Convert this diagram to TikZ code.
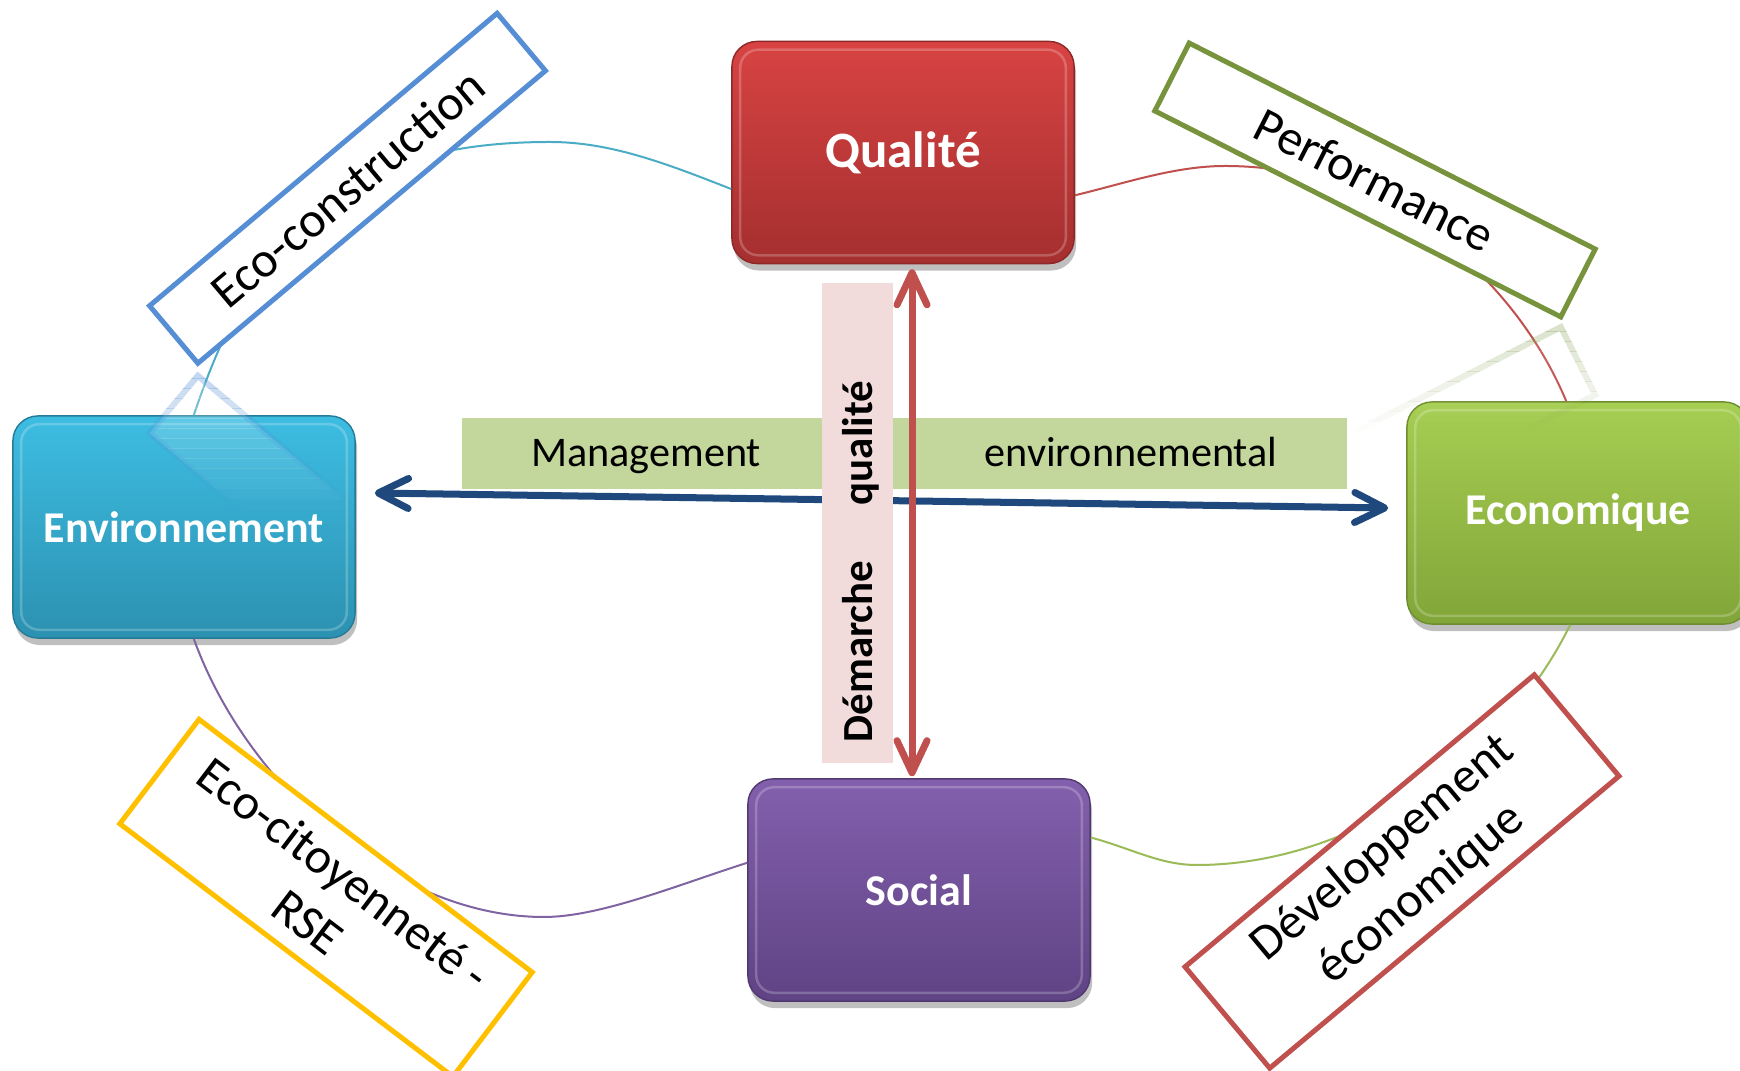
\documentclass[tikz,border=0pt]{standalone}
\usepackage{fontspec}
\setmainfont{Carlito}
\usetikzlibrary{arrows.meta,shadows,calc}

\definecolor{qtop}{HTML}{D84343}
\definecolor{qbot}{HTML}{A52F2F}
\definecolor{etop}{HTML}{3DBDE2}
\definecolor{ebot}{HTML}{2C91B1}
\definecolor{gtop}{HTML}{A6CE52}
\definecolor{gbot}{HTML}{82A539}
\definecolor{ptop}{HTML}{8360AD}
\definecolor{pbot}{HTML}{5F4384}
\definecolor{cblue}{HTML}{558ED5}
\definecolor{cgreen}{HTML}{77933C}
\definecolor{cgold}{HTML}{FFC000}
\definecolor{cred}{HTML}{C0504D}
\definecolor{arcblue}{HTML}{4BACC6}
\definecolor{arcred}{HTML}{C0504D}
\definecolor{arcgreen}{HTML}{9BBB59}
\definecolor{arcpurple}{HTML}{8064A2}
\definecolor{bandgreen}{HTML}{C3D69B}
\definecolor{bandpink}{HTML}{F2DCDB}
\definecolor{navy}{HTML}{1F497D}

\begin{document}
\begin{tikzpicture}[x=0.01cm,y=-0.01cm,
  mainbox/.style 2 args={rounded corners=0.25cm, minimum width=3.42cm,
    minimum height=2.22cm, inner sep=0pt, text=white,
    top color=#1, bottom color=#2, draw=#2!85!black, line width=0.4pt,
    drop shadow={shadow xshift=0.02cm, shadow yshift=-0.07cm, opacity=0.25, fill=black}},
  boxfont/.style={font=\fontsize{12.5pt}{15pt}\selectfont\bfseries},
  lbl/.style={fill=white, line width=0.05cm, inner sep=0pt, align=center,
    font=\fontsize{14.2pt}{17pt}\selectfont},
  reflbox/.style={fill=white, line width=0.06cm, inner sep=0pt},
  arcline/.style={line width=0.02cm},
  midtext/.style={font=\fontsize{12pt}{14pt}\selectfont, inner sep=0pt},
  midbold/.style={font=\fontsize{12.2pt}{14pt}\selectfont\bfseries, inner sep=0pt},
  hilite/.style={white, opacity=0.22, line width=0.025cm, rounded corners=0.18cm},
  redarr/.style={cred, line width=0.07cm,
    {Straight Barb[length=0.32cm,width=0.30cm,round]}-{Straight Barb[length=0.32cm,width=0.30cm,round]}},
  bluearr/.style={navy, line width=0.07cm,
    {Straight Barb[length=0.30cm,width=0.30cm,round]}-{Straight Barb[length=0.30cm,width=0.30cm,round]}}
]
\clip (0,0) rectangle (1740,1071);
\fill[white] (0,0) rectangle (1740,1071);

% main boxes
\node[mainbox={qtop}{qbot}, font=\fontsize{14.5pt}{17pt}\selectfont\bfseries] (q) at (903,152.5) {Qualité};
\node[mainbox={etop}{ebot}, boxfont] (e) at (184,527) {Environnement};
\node[mainbox={gtop}{gbot}, boxfont] (ec) at (1578,513) {Economique};
\node[mainbox={ptop}{pbot}, boxfont] (s) at (919,890) {Social};

\foreach \n in {q,e,ec,s}{
  \draw[hilite] ($(\n.south west)+(9,-9)$) rectangle ($(\n.north east)+(-9,9)$);
}

% cycle arcs
\draw[arcline, arcblue] (e.85) .. controls (257,226) and (350,142) .. (550,142)
  .. controls (610,142) and (665,163) .. (q.192);
\draw[arcline, arcred] (q.-14) .. controls (1126,183) and (1175,166) .. (1225,166)
  .. controls (1400,166) and (1520,290) .. (ec.96);
\draw[arcline, arcgreen] (ec.-94) .. controls (1502,764) and (1347,865) .. (1197,865)
  .. controls (1160,865) and (1133,849) .. (s.17);
\draw[arcline, arcpurple] (e.-85) .. controls (246.5,785) and (394,917) .. (544,917)
  .. controls (600,917) and (677.5,885) .. (s.171);

% faint reflections (smooth fade by thin bands)
\foreach \i in {1,...,14}{
  \pgfmathsetmacro\ya{369+(\i-1)*10}
  \pgfmathsetmacro\yb{369+\i*10}
  \pgfmathsetmacro\dop{0.36*(1-(\i-0.5)/14)}
  \pgfmathsetmacro\fop{0.30*(1-(\i-0.5)/14)}
  \begin{scope}
    \clip (0,\ya) rectangle (700,\yb);
    \node[reflbox, draw=cblue, rotate=-40.08, minimum width=4.54cm, minimum height=0.75cm,
      draw opacity=\dop, fill opacity=\fop] (rb\i) at (347.5,550.7) {};
  \end{scope}
}
\foreach \i in {1,...,11}{
  \pgfmathsetmacro\ya{322+(\i-1)*10}
  \pgfmathsetmacro\yb{322+\i*10}
  \pgfmathsetmacro\dop{0.28*(1-(\i-0.5)/11)}
  \pgfmathsetmacro\fop{0.12*(1-(\i-0.5)/11)}
  \begin{scope}
    \clip (1200,\ya) rectangle (1740,\yb);
    \node[reflbox, draw=cgreen, rotate=26.9, minimum width=4.55cm, minimum height=0.76cm,
      draw opacity=\dop, fill opacity=\fop] (rg\i) at (1375,464) {};
  \end{scope}
}

% label boxes
\node[lbl, draw=cblue, rotate=40.08, minimum width=4.54cm, minimum height=0.75cm] (lb1) at (347.5,188.3) {Eco-construction};
\node[lbl, draw=cgreen, rotate=-26.9, minimum width=4.55cm, minimum height=0.76cm] (lb2) at (1375,180) {Performance};
\node[lbl, draw=cgold, rotate=-37.2, minimum width=4.18cm, minimum height=1.31cm] (lb3) at (326,898) {Eco-citoyenneté -\\RSE};
\node[lbl, draw=cred, rotate=39.9, minimum width=4.55cm, minimum height=1.32cm] (lb4) at (1402,871.5) {Développement\\économique};

% central bands and arrows
\fill[bandgreen] (462,418) rectangle (1347,489);
\node[midtext, anchor=base] (mgmt) at (646,467) {Management};
\node[midtext, anchor=base] (envt) at (1131,467) {environnemental};

\coordinate (bl) at ($(e.east)+(19,-34)$);
\coordinate (br) at ($(ec.west)+(-18,-5)$);
\draw[bluearr] (bl) -- (br);

\fill[bandpink] (822,283) rectangle (893,763);
\node[midbold, rotate=90, anchor=base] (qual) at (872,443) {qualité};
\node[midbold, rotate=90, anchor=base] (dem) at (872,651.5) {Démarche};

\coordinate (vx) at (912,0);
\draw[redarr, shorten >=0.05cm, shorten <=0.02cm] (vx |- s.north) -- (vx |- q.south);
\end{tikzpicture}
\end{document}
